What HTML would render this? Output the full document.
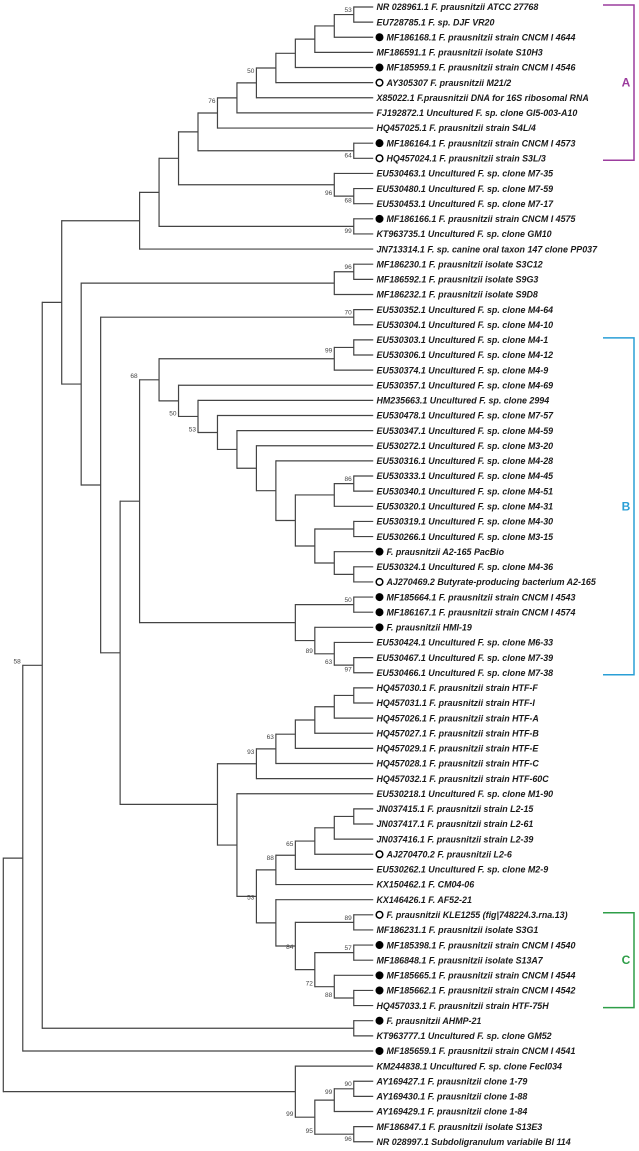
<!DOCTYPE html>
<html><head><meta charset="utf-8"><style>
html,body{margin:0;padding:0;background:#fff;}
svg{display:block;}
.lf{font-family:"Liberation Sans",Arial,sans-serif;font-size:8.9px;font-weight:bold;font-style:italic;fill:#1a1a1a;}
.bs{font-family:"Liberation Sans",Arial,sans-serif;font-size:6.5px;fill:#444;}
</style></head><body>
<svg id="tree" width="639" height="1151" viewBox="0 0 639 1151" xmlns="http://www.w3.org/2000/svg"></svg>
<script>
const leafLabels = [
"NR 028961.1 F. prausnitzii ATCC 27768","EU728785.1 F. sp. DJF VR20","MF186168.1 F. prausnitzii strain CNCM I 4644","MF186591.1 F. prausnitzii isolate S10H3","MF185959.1 F. prausnitzii strain CNCM I 4546","AY305307 F. prausnitzii M21/2","X85022.1 F.prausnitzii DNA for 16S ribosomal RNA","FJ192872.1 Uncultured F. sp. clone GI5-003-A10","HQ457025.1 F. prausnitzii strain S4L/4","MF186164.1 F. prausnitzii strain CNCM I 4573","HQ457024.1 F. prausnitzii strain S3L/3",
"EU530463.1 Uncultured F. sp. clone M7-35","EU530480.1 Uncultured F. sp. clone M7-59","EU530453.1 Uncultured F. sp. clone M7-17","MF186166.1 F. prausnitzii strain CNCM I 4575","KT963735.1 Uncultured F. sp. clone GM10","JN713314.1 F. sp. canine oral taxon 147 clone PP037","MF186230.1 F. prausnitzii isolate S3C12","MF186592.1 F. prausnitzii isolate S9G3","MF186232.1 F. prausnitzii isolate S9D8",
"EU530352.1 Uncultured F. sp. clone M4-64","EU530304.1 Uncultured F. sp. clone M4-10","EU530303.1 Uncultured F. sp. clone M4-1","EU530306.1 Uncultured F. sp. clone M4-12","EU530374.1 Uncultured F. sp. clone M4-9","EU530357.1 Uncultured F. sp. clone M4-69","HM235663.1 Uncultured F. sp. clone 2994","EU530478.1 Uncultured F. sp. clone M7-57","EU530347.1 Uncultured F. sp. clone M4-59","EU530272.1 Uncultured F. sp. clone M3-20",
"EU530316.1 Uncultured F. sp. clone M4-28","EU530333.1 Uncultured F. sp. clone M4-45","EU530340.1 Uncultured F. sp. clone M4-51","EU530320.1 Uncultured F. sp. clone M4-31","EU530319.1 Uncultured F. sp. clone M4-30","EU530266.1 Uncultured F. sp. clone M3-15","F. prausnitzii A2-165 PacBio","EU530324.1 Uncultured F. sp. clone M4-36","AJ270469.2 Butyrate-producing bacterium A2-165","MF185664.1 F. prausnitzii strain CNCM I 4543",
"MF186167.1 F. prausnitzii strain CNCM I 4574","F. prausnitzii HMI-19","EU530424.1 Uncultured F. sp. clone M6-33","EU530467.1 Uncultured F. sp. clone M7-39","EU530466.1 Uncultured F. sp. clone M7-38","HQ457030.1 F. prausnitzii strain HTF-F","HQ457031.1 F. prausnitzii strain HTF-I","HQ457026.1 F. prausnitzii strain HTF-A","HQ457027.1 F. prausnitzii strain HTF-B","HQ457029.1 F. prausnitzii strain HTF-E",
"HQ457028.1 F. prausnitzii strain HTF-C","HQ457032.1 F. prausnitzii strain HTF-60C","EU530218.1 Uncultured F. sp. clone M1-90","JN037415.1 F. prausnitzii strain L2-15","JN037417.1 F. prausnitzii strain L2-61","JN037416.1 F. prausnitzii strain L2-39","AJ270470.2 F. prausnitzii L2-6","EU530262.1 Uncultured F. sp. clone M2-9","KX150462.1 F. CM04-06","KX146426.1 F. AF52-21",
"F. prausnitzii KLE1255 (fig|748224.3.rna.13)","MF186231.1 F. prausnitzii isolate S3G1","MF185398.1 F. prausnitzii strain CNCM I 4540","MF186848.1 F. prausnitzii isolate S13A7","MF185665.1 F. prausnitzii strain CNCM I 4544","MF185662.1 F. prausnitzii strain CNCM I 4542","HQ457033.1 F. prausnitzii strain HTF-75H","F. prausnitzii AHMP-21","KT963777.1 Uncultured F. sp. clone GM52","MF185659.1 F. prausnitzii strain CNCM I 4541",
"KM244838.1 Uncultured F. sp. clone FecI034","AY169427.1 F. prausnitzii clone 1-79","AY169430.1 F. prausnitzii clone 1-88","AY169429.1 F. prausnitzii clone 1-84","MF186847.1 F. prausnitzii isolate S13E3","NR 028997.1 Subdoligranulum variabile Bl 114"];
const filledMarkers = [2,4,9,14,36,39,40,41,62,64,65,67,69];
const openMarkers = [5,10,38,56,60];
const clades = [["A",0,10,"#9c3d9e"],["B",22,44,"#2a9fd6"],["C",60,66,"#2e9e48"]];

function N(k,c,b,p){return {k:k,c:c,b:b,p:p};}
// clade A region
const cA = N(7,[N(8,[N(9,[N(10,[N(11,[N(12,[N(13,[N(14,[N(15,[N(16,[N(17,[N(18,[0,1],'53','u'),2]),3]),4]),5]),6],'50','u'),7]),8],'76','u'),N(18,[9,10],'64','d')]),N(17,[11,N(18,[12,13],'68','d')],'96','d')]),N(18,[14,15],'99','d')]),16]);
// clade B region
const bInner = N(15,[N(17,[N(18,[31,32],'86','u'),33]),N(16,[N(18,[34,35]),N(17,[36,N(18,[37,38])])])]);
const bChain = N(9,[25,N(10,[26,N(11,[27,N(12,[28,N(13,[29,N(14,[30,bInner])])])])],'53','d')],'50','d');
const bTop = N(8,[N(17,[N(18,[22,23]),24],'99','u'),bChain]);
const bLow = N(15,[N(18,[39,40],'50','u'),N(16,[41,N(17,[42,N(18,[43,44],'97','d')],'63','d')],'89','d')]);
const cB = N(7,[bTop,bLow],'68','t');
// HTF / clade C region
const htf = N(13,[N(14,[N(15,[N(16,[N(17,[N(18,[45,46]),47]),48]),49]),50],'63','u'),51],'93','u');
const l2 = N(14,[N(15,[N(16,[N(17,[N(18,[53,54]),55]),56]),57],'65','u'),58],'88','u');
const cC = N(14,[59,N(15,[N(18,[60,61],'89','u'),N(16,[N(18,[62,63],'57','u'),N(17,[64,N(18,[65,66])],'88','d')],'72','d')],'84','m')]);
const lower = N(11,[htf,N(12,[52,N(13,[l2,cC],'53','m')])]);
const k4 = N(4,[N(17,[N(18,[17,18],'96','u'),19]),N(5,[N(18,[20,21],'70','u'),N(6,[cB,lower])])]);
const k1 = N(1,[N(2,[N(3,[cA,k4]),N(18,[67,68])]),69],'58','t');
const outg = N(15,[70,N(16,[N(17,[N(18,[71,72],'90','u'),73],'99','u'),N(18,[74,75],'96','d')],'95','d')],'99','d');
const tree = N(0,[k1,outg]);

const NS="http://www.w3.org/2000/svg";
const svg=document.getElementById('tree');
const xL=k=>3.3+19.47*k;
const yR=i=>7+15.13*i;
const TIP=19;
function mk(tag,attrs){const e=document.createElementNS(NS,tag);for(const a in attrs)e.setAttribute(a,attrs[a]);svg.appendChild(e);return e;}
function line(x1,y1,x2,y2,name){
 const e=mk('line',{x1:x1,y1:y1,x2:x2,y2:y2,stroke:'#444','stroke-width':1.2});
 
 
}
function draw(n){
 if(typeof n==='number') return {y:yR(n),x:xL(TIP)};
 const x=xL(n.k);
 const ch=n.c.map(draw);
 const ys=ch.map(c=>c.y);
 const top=Math.min(...ys),bot=Math.max(...ys);
 const y=(top+bot)/2;
 line(x,top-0.6,x,bot+0.6,'branch-vertical');
 ch.forEach(c=>line(x,c.y,c.x,c.y,'branch-horizontal'));
 if(n.b){
  const by=n.p==='u'?top+5:n.p==='d'?bot-1:n.p==='t'?top-2:y+3;
  const t=mk('text',{x:x-2,y:by,'text-anchor':'end','class':'bs'});
  t.textContent=n.b;
  
  
 }
 return {y:y,x:x};
}
draw(tree);
leafLabels.forEach((lab,i)=>{
 const y=yR(i);
 let tx=376.5;
 if(filledMarkers.includes(i)||openMarkers.includes(i)){
  const f=filledMarkers.includes(i);
  const c=mk('circle',{cx:379.5,cy:y,r:f?4:3.3,fill:f?'#000':'#fff',stroke:'#000','stroke-width':f?0:1.5});
  
  
  tx=386.5;
 }
 const t=mk('text',{x:tx,y:y+3.2,'class':'lf'});
 t.textContent=lab;
 
 
});
clades.forEach(([name,a,b,col])=>{
 const y1=yR(a)-2,y2=yR(b)+2,xv=634,xh=603;
 const p=mk('path',{d:'M'+xh+' '+y1+'H'+xv+'V'+y2+'H'+xh,fill:'none',stroke:col,'stroke-width':1.5});
 
 
 const t=mk('text',{x:626,y:(y1+y2)/2+4,'text-anchor':'middle',fill:col,'font-family':'Liberation Sans, Arial, sans-serif','font-size':'12px','font-weight':'bold'});
 t.textContent=name;
 
 
});
</script>
</body></html>
